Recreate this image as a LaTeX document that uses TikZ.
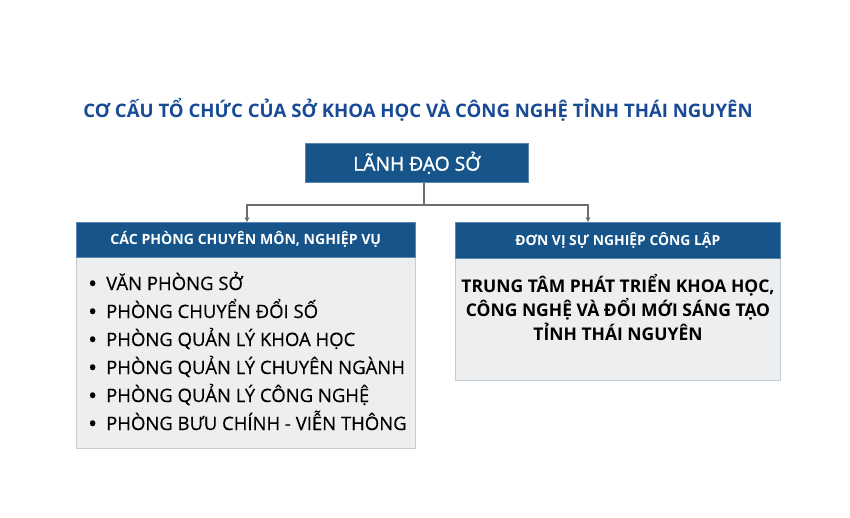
\documentclass[tikz,border=0pt]{standalone}
\usepackage{fontspec}
\setmainfont{Open Sans}
\newfontfamily\semib[FakeBold=1.2]{Open Sans}
\newfontfamily\itemfont[FakeBold=0.4]{Open Sans}
\usetikzlibrary{arrows.meta}
\definecolor{titleblue}{RGB}{24,74,150}
\definecolor{hdrblue}{RGB}{22,84,138}
\definecolor{bodygray}{RGB}{236,238,240}
\definecolor{bordergray}{RGB}{195,205,214}
\definecolor{linegray}{RGB}{110,110,110}
\begin{document}
\begin{tikzpicture}[x=1pt,y=-1pt,
  hdr/.style={draw=hdrblue!70!white, line width=0.6pt, fill=hdrblue, text=white, inner sep=0pt, anchor=north west},
  body/.style={draw=bordergray, line width=0.8pt, fill=bodygray, inner sep=0pt, anchor=north west},
  item/.style={anchor=base west, inner sep=0pt, font=\fontsize{18.5}{20}\itemfont},
  conn/.style={draw=linegray, line width=1.4pt},
  arr/.style={conn, -{Stealth[length=5pt,width=5pt]}}
]
\useasboundingbox (0,0) rectangle (850,517);
\node[anchor=base, inner sep=0pt, text=titleblue, font=\fontsize{18.6}{22}\selectfont\bfseries] (title) at (418,117) {CƠ CẤU TỔ CHỨC CỦA SỞ KHOA HỌC VÀ CÔNG NGHỆ TỈNH THÁI NGUYÊN};
\node[hdr, minimum width=223pt, minimum height=39pt] (top) at (305,143) {};
\node[text=white, inner sep=0pt, font=\fontsize{19.3}{22}\semib] (toptext) at (top.center) {LÃNH ĐẠO SỞ};
% left box
\node[body, minimum width=339pt, minimum height=191pt] (lbody) at (76,257) {};
\node[hdr, minimum width=339pt, minimum height=35pt] (lhdr) at (76,222) {};
\node[text=white, inner sep=0pt, font=\fontsize{14.1}{16}\selectfont\bfseries] (lhtext) at (lhdr.center) {CÁC PHÒNG CHUYÊN MÔN, NGHIỆP VỤ};
\node[item] (li1) at (89,290) {\makebox[17pt][l]{\bfseries •}VĂN PHÒNG SỞ};
\node[item] (li2) at (89,318) {\makebox[17pt][l]{\bfseries •}PHÒNG CHUYỂN ĐỔI SỐ};
\node[item] (li3) at (89,346) {\makebox[17pt][l]{\bfseries •}PHÒNG QUẢN LÝ KHOA HỌC};
\node[item] (li4) at (89,374) {\makebox[17pt][l]{\bfseries •}PHÒNG QUẢN LÝ CHUYÊN NGÀNH};
\node[item] (li5) at (89,402) {\makebox[17pt][l]{\bfseries •}PHÒNG QUẢN LÝ CÔNG NGHỆ};
\node[item] (li6) at (89,430) {\makebox[17pt][l]{\bfseries •}PHÒNG BƯU CHÍNH - VIỄN THÔNG};
% right box
\node[body, minimum width=325pt, minimum height=122pt] (rbody) at (455,258) {};
\node[hdr, minimum width=325pt, minimum height=36pt] (rhdr) at (455,222) {};
\node[text=white, inner sep=0pt, font=\fontsize{13.9}{16}\selectfont\bfseries] (rhtext) at (rhdr.center) {ĐƠN VỊ SỰ NGHIỆP CÔNG LẬP};
\node[inner sep=0pt, align=center, font=\fontsize{17.5}{24}\selectfont\bfseries] (rtext) at (618,308) {TRUNG TÂM PHÁT TRIỂN KHOA HỌC,\\CÔNG NGHỆ VÀ ĐỔI MỚI SÁNG TẠO\\TỈNH THÁI NGUYÊN};
% connectors
\coordinate (j) at (424,205);
\coordinate (jl) at (247,205);
\coordinate (jr) at (588,205);
\draw[conn] (top.south -| j) -- (j);
\draw[arr] (j) -- (jl) -- (lhdr.north -| jl);
\draw[arr] (j) -- (jr) -- (rhdr.north -| jr);
\end{tikzpicture}
\end{document}
